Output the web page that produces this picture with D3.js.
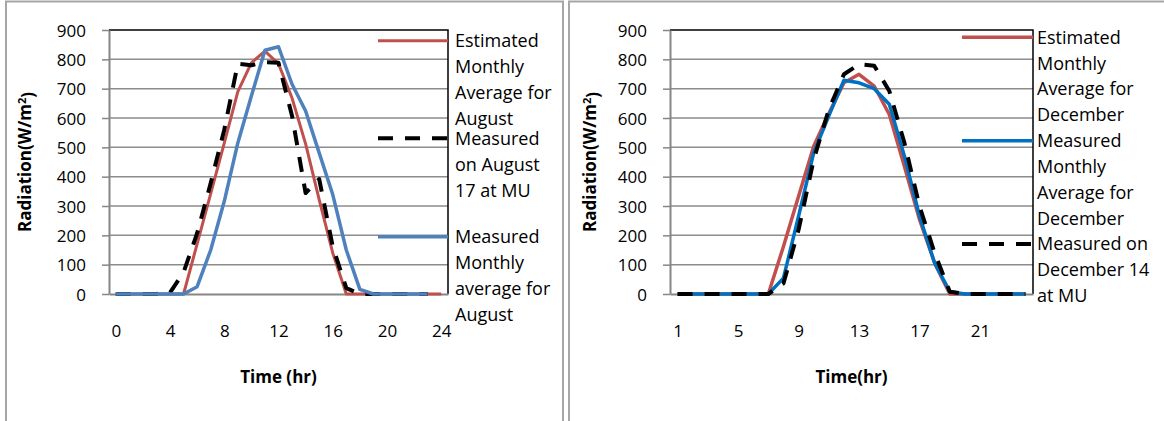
<!DOCTYPE html>
<html>
<head>
<meta charset="utf-8">
<script src="https://cdn.jsdelivr.net/npm/d3@7"></script>
<style>
  body { margin: 0; background: #fff; }
  svg { display: block; }
  text { font-family: "Open Sans", "Liberation Sans", sans-serif; fill: #000; }
</style>
</head>
<body>
<svg id="chart" width="1164" height="421"></svg>
<script>
// ---- data ----
const augHours = [0,1,2,3,4,5,6,7,8,9,10,11,12,13,14,15,16,17,18,19,20,21,22,23,24];
const augTickLabels = [0,4,8,12,16,20,24];
const augEstimated  = [0,0,0,0,0,0,171,342,514,690,788,828,785,668,512,322,140,0,0,0,0,0,0,0,0];
const augMeasured17 = [0,0,0,0,5,74,207,378,560,785,780,790,788,607,344,392,162,20,0,0,0,0,0,0];
const augMonthly    = [0,0,0,0,0,0,25,150,316,515,675,831,843,715,624,481,339,150,16,0,0,0,0,0];

const decHours = [1,2,3,4,5,6,7,8,9,10,11,12,13,14,15,16,17,18,19,20,21,22,23,24];
const decTickLabels = [1,5,9,13,17,21];
const decEstimated  = [0,0,0,0,0,0,0,162,333,504,615,720,749,709,612,435,253,105,0,0,0,0,0,0];
const decMonthly    = [0,0,0,0,0,0,0,54,265,481,607,729,720,700,647,470,265,105,8,0,0,0,0,0];
const decMeasured14 = [0,0,0,0,0,0,0,36,219,458,629,749,783,778,692,515,299,139,8,0,0,0,0,0];

const yTicks = [0,100,200,300,400,500,600,700,800,900];

const RED = "#C0504D", BLUE_A = "#4F81BD", BLUE_D = "#0070C0", BLACK = "#000";
const DASH = "15,12";

const svg = d3.select("#chart");

// outer frames of the two panels
svg.append("path")
  .attr("d", "M6,425 V1.5 H563 V425")
  .attr("fill", "none").attr("stroke", "#a6a6a6").attr("stroke-width", 2);
svg.append("path")
  .attr("d", "M569,425 V1.5 H1170")
  .attr("fill", "none").attr("stroke", "#a6a6a6").attr("stroke-width", 2);

function drawPanel(p) {
  const g = svg.append("g");
  const x = d3.scalePoint().domain(p.hours).range([p.left, p.right]).padding(0.5);
  const y = d3.scaleLinear().domain([0, 900]).range([p.bottom, p.top]);

  // horizontal gridlines
  g.append("g").selectAll("line")
    .data(yTicks.filter(t => t > 0 && t < 900))
    .join("line")
    .attr("x1", p.left).attr("x2", p.right)
    .attr("y1", d => y(d)).attr("y2", d => y(d))
    .attr("stroke", "#8c8c8c").attr("stroke-width", 1.5);

  // plot-area border (top and right)
  g.append("path")
    .attr("d", `M${p.left},${y(900)} H${p.right} V${y(0)}`)
    .attr("fill", "none").attr("stroke", "#000").attr("stroke-width", 1.5);

  // y axis
  const ya = g.append("g").attr("transform", `translate(${p.left},0)`)
    .call(d3.axisLeft(y).tickValues(yTicks).tickSize(7).tickSizeOuter(0).tickPadding(16));
  ya.select(".domain").attr("stroke", "#868686").attr("stroke-width", 2);
  ya.selectAll(".tick line").attr("stroke", "#868686").attr("stroke-width", 1.5);
  ya.selectAll(".tick text").style("font-size", "17px").attr("dy", "0.36em");

  // x axis
  const xa = g.append("g").attr("transform", `translate(0,${y(0)})`)
    .call(d3.axisBottom(x).tickValues(p.tickLabels).tickSize(0).tickSizeOuter(0).tickPadding(31));
  xa.select(".domain").attr("stroke", "#868686").attr("stroke-width", 2);
  xa.selectAll(".tick text").style("font-size", "17px");

  // series
  const line = d3.line().x(d => x(d[0])).y(d => y(d[1])).curve(d3.curveLinear);
  p.series.forEach(s => {
    const pts = s.values.map((v, i) => [p.hours[i], v]);
    g.append("path")
      .attr("d", line(pts))
      .attr("fill", "none")
      .attr("stroke", s.color)
      .attr("stroke-width", s.width)
      .attr("stroke-linejoin", "round")
      .attr("stroke-dasharray", s.dash || null);
  });

  // legend
  p.series.forEach(s => {
    g.append("line")
      .attr("x1", p.legendX1).attr("x2", p.right)
      .attr("y1", s.legendY).attr("y2", s.legendY)
      .attr("stroke", s.color).attr("stroke-width", s.width)
      .attr("stroke-dasharray", s.dash || null);
    const t = g.append("text").style("font-size", "18px");
    s.label.forEach((ln, k) => {
      t.append("tspan")
        .attr("x", p.legendTextX)
        .attr("y", s.legendY + k * p.legendLine)
        .attr("dy", "0.36em")
        .text(ln);
    });
  });

  // axis titles
  g.append("text")
    .attr("x", (p.left + p.right) / 2).attr("y", 377).attr("dy", "0.36em")
    .attr("text-anchor", "middle")
    .style("font-size", "17px").style("font-weight", "bold")
    .text(p.xTitle);

  const yt = g.append("text")
    .attr("transform", `translate(${p.yTitleX},162) rotate(-90)`)
    .attr("text-anchor", "middle").attr("dy", "0.36em")
    .style("font-size", "17px").style("font-weight", "bold");
  yt.append("tspan").text("Radiation(W/m");
  yt.append("tspan").text("2").style("font-size", "11px").attr("dy", "-0.45em");
  yt.append("tspan").text(")").attr("dy", "0.45em");
}

drawPanel({
  hours: augHours, tickLabels: augTickLabels,
  left: 109, right: 448, top: 30, bottom: 294,
  legendX1: 378, legendTextX: 455, legendLine: 26,
  xTitle: "Time (hr)", yTitleX: 25,
  series: [
    { values: augEstimated, color: RED, width: 3, legendY: 40.7,
      label: ["Estimated", "Monthly", "Average for", "August"] },
    { values: augMeasured17, color: BLACK, width: 4, dash: DASH, legendY: 138.3,
      label: ["Measured", "on August", "17 at MU"] },
    { values: augMonthly, color: BLUE_A, width: 3.5, legendY: 236.7,
      label: ["Measured", "Monthly", "average for", "August"] }
  ]
});

drawPanel({
  hours: decHours, tickLabels: decTickLabels,
  left: 670, right: 1033, top: 30, bottom: 294,
  legendX1: 962, legendTextX: 1037, legendLine: 25.8,
  xTitle: "Time(hr)", yTitleX: 590,
  series: [
    { values: decEstimated, color: RED, width: 3.5, legendY: 37.3,
      label: ["Estimated", "Monthly", "Average for", "December"] },
    { values: decMonthly, color: BLUE_D, width: 3.5, legendY: 140.7,
      label: ["Measured", "Monthly", "Average for", "December"] },
    { values: decMeasured14, color: BLACK, width: 4, dash: DASH, legendY: 244,
      label: ["Measured on", "December 14", "at MU"] }
  ]
});
</script>
</body>
</html>
